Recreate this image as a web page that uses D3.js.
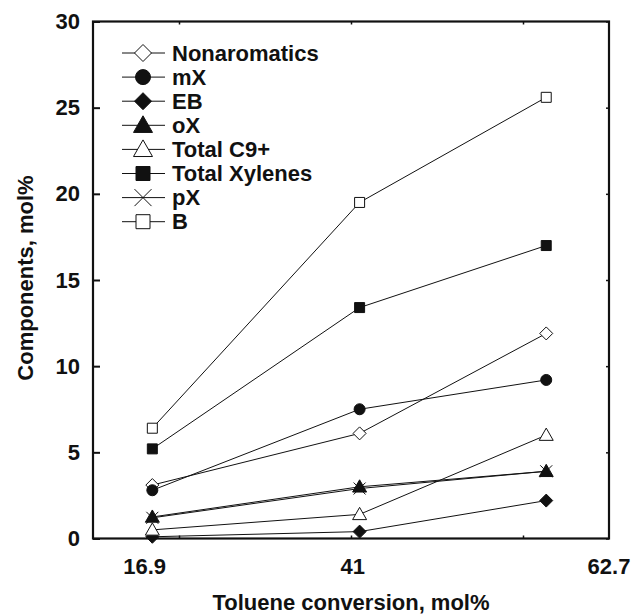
<!DOCTYPE html>
<html><head><meta charset="utf-8">
<script src="https://cdn.jsdelivr.net/npm/d3@7"></script>
<style>
body{margin:0;background:#fff;}
text{font-family:"Liberation Sans",Arial,Helvetica,sans-serif;font-weight:bold;fill:#111;}
</style></head>
<body><svg id="c" width="632" height="615"></svg>
<script>
const xValues = [16.9, 41, 62.7];
const xTickLabels = ["16.9", "41", "62.7"];
const xTickLabelAt = [16, 40.2, 70];
const yTicks = [0, 5, 10, 15, 20, 25, 30];
const xMinorTicks = [20, 40, 60];
const seriesNames = ["Nonaromatics", "mX", "EB", "oX", "Total C9+", "Total Xylenes", "pX", "B"];
const seriesShapes = ["diamond", "circle", "diamond", "triangle", "triangle", "square", "x", "square"];
const seriesFilled = [false, true, true, true, false, true, false, false];
const nonaromatics = [3.1, 6.1, 11.9];
const mX = [2.8, 7.5, 9.2];
const EB = [0.1, 0.4, 2.2];
const oX = [1.25, 3.0, 3.9];
const totalC9 = [0.5, 1.4, 6.0];
const totalXylenes = [5.2, 13.4, 17.0];
const pX = [1.2, 2.9, 3.9];
const B = [6.4, 19.5, 25.6];
const seriesValues = [nonaromatics, mX, EB, oX, totalC9, totalXylenes, pX, B];

const svg = d3.select("#c");
const L = 93, R = 609, T = 21.5, Bt = 538.5;
const FS = 22;
const x = d3.scaleLinear().domain([10, 70]).range([L, R]);
const y = d3.scaleLinear().domain([0, 30]).range([Bt, T]);

function shapePath(type, s) {
  switch (type) {
    case "circle": return `M${s},0A${s},${s} 0 1,1 ${-s},0A${s},${s} 0 1,1 ${s},0Z`;
    case "square": return `M${-s},${-s}H${s}V${s}H${-s}Z`;
    case "diamond": return `M0,${-s}L${s},0L0,${s}L${-s},0Z`;
    case "triangle": return `M0,${-s}L${s},${s*0.75}L${-s},${s*0.75}Z`;
    case "x": return `M${-s},${-s}L${s},${s}M${-s},${s}L${s},${-s}`;
  }
}
const plotSize = {circle: 5.5, square: 5, diamond: 6.5, triangle: 7, x: 6};
const legSize = {circle: 7.5, square: 7, diamond: 8.5, triangle: 9.5, x: 8.5};

// series lines and markers
const line = d3.line().x((d, i) => x(xValues[i])).y(d => y(d));
seriesValues.forEach((vals, k) => {
  svg.append("path").attr("d", line(vals)).attr("fill", "none")
    .attr("stroke", "#111").attr("stroke-width", 1);
});
seriesValues.forEach((vals, k) => {
  const shp = seriesShapes[k];
  svg.append("g").selectAll("path").data(vals).join("path")
    .attr("transform", (d, i) => `translate(${x(xValues[i])},${y(d)})`)
    .attr("d", shapePath(shp, plotSize[shp]))
    .attr("fill", shp === "x" ? "none" : (seriesFilled[k] ? "#111" : "#fff"))
    .attr("stroke", "#111").attr("stroke-width", 1);
});

// frame
svg.append("rect").attr("x", L).attr("y", T).attr("width", R - L).attr("height", Bt - T)
  .attr("fill", "none").attr("stroke", "#111").attr("stroke-width", 2.2);

// y ticks (left, inward) and right mirror
const yAxisL = d3.axisRight(y).tickValues(yTicks).tickSize(7).tickFormat("");
svg.append("g").attr("transform", `translate(${L},0)`).call(yAxisL)
  .call(g => g.select(".domain").remove())
  .call(g => g.selectAll("line").attr("stroke", "#111").attr("stroke-width", 2));
const yAxisR = d3.axisLeft(y).tickValues(yTicks).tickSize(3).tickFormat("");
svg.append("g").attr("transform", `translate(${R},0)`).call(yAxisR)
  .call(g => g.select(".domain").remove())
  .call(g => g.selectAll("line").attr("stroke", "#111").attr("stroke-width", 1.5));
svg.append("g").selectAll("text").data(yTicks).join("text")
  .attr("x", 80).attr("y", d => y(d)).attr("text-anchor", "end")
  .attr("dominant-baseline", "central").attr("font-size", FS).text(d => d);

// x ticks
const xAxisB = d3.axisTop(x).tickValues(xMinorTicks).tickSize(3).tickFormat("");
svg.append("g").attr("transform", `translate(0,${Bt})`).call(xAxisB)
  .call(g => g.select(".domain").remove())
  .call(g => g.selectAll("line").attr("stroke", "#111").attr("stroke-width", 1.5));
const xAxisT = d3.axisBottom(x).tickValues(xMinorTicks).tickSize(3).tickFormat("");
svg.append("g").attr("transform", `translate(0,${T})`).call(xAxisT)
  .call(g => g.select(".domain").remove())
  .call(g => g.selectAll("line").attr("stroke", "#111").attr("stroke-width", 1.5));
svg.append("g").selectAll("text").data(xTickLabels).join("text")
  .attr("x", (d, i) => x(xTickLabelAt[i])).attr("y", 566)
  .attr("text-anchor", "middle").attr("dominant-baseline", "central")
  .attr("font-size", FS).text(d => d);

// axis titles
svg.append("text").attr("x", (L + R) / 2).attr("y", 602).attr("text-anchor", "middle")
  .attr("dominant-baseline", "central").attr("font-size", FS).text("Toluene conversion, mol%");
svg.append("text").attr("transform", "translate(25,278) rotate(-90)").attr("text-anchor", "middle")
  .attr("dominant-baseline", "central").attr("font-size", FS).text("Components, mol%");

// legend
const leg = svg.append("g");
seriesNames.forEach((name, k) => {
  const cy = 53 + k * 24.1;
  const shp = seriesShapes[k];
  leg.append("line").attr("x1", 122).attr("x2", 165).attr("y1", cy).attr("y2", cy)
    .attr("stroke", "#111").attr("stroke-width", 1);
  leg.append("path").attr("transform", `translate(143,${cy})`)
    .attr("d", shapePath(shp, legSize[shp]))
    .attr("fill", shp === "x" ? "none" : (seriesFilled[k] ? "#111" : "#fff"))
    .attr("stroke", "#111").attr("stroke-width", 1);
  leg.append("text").attr("x", 172).attr("y", cy).attr("dominant-baseline", "central")
    .attr("font-size", FS).text(name);
});
</script></body></html>
